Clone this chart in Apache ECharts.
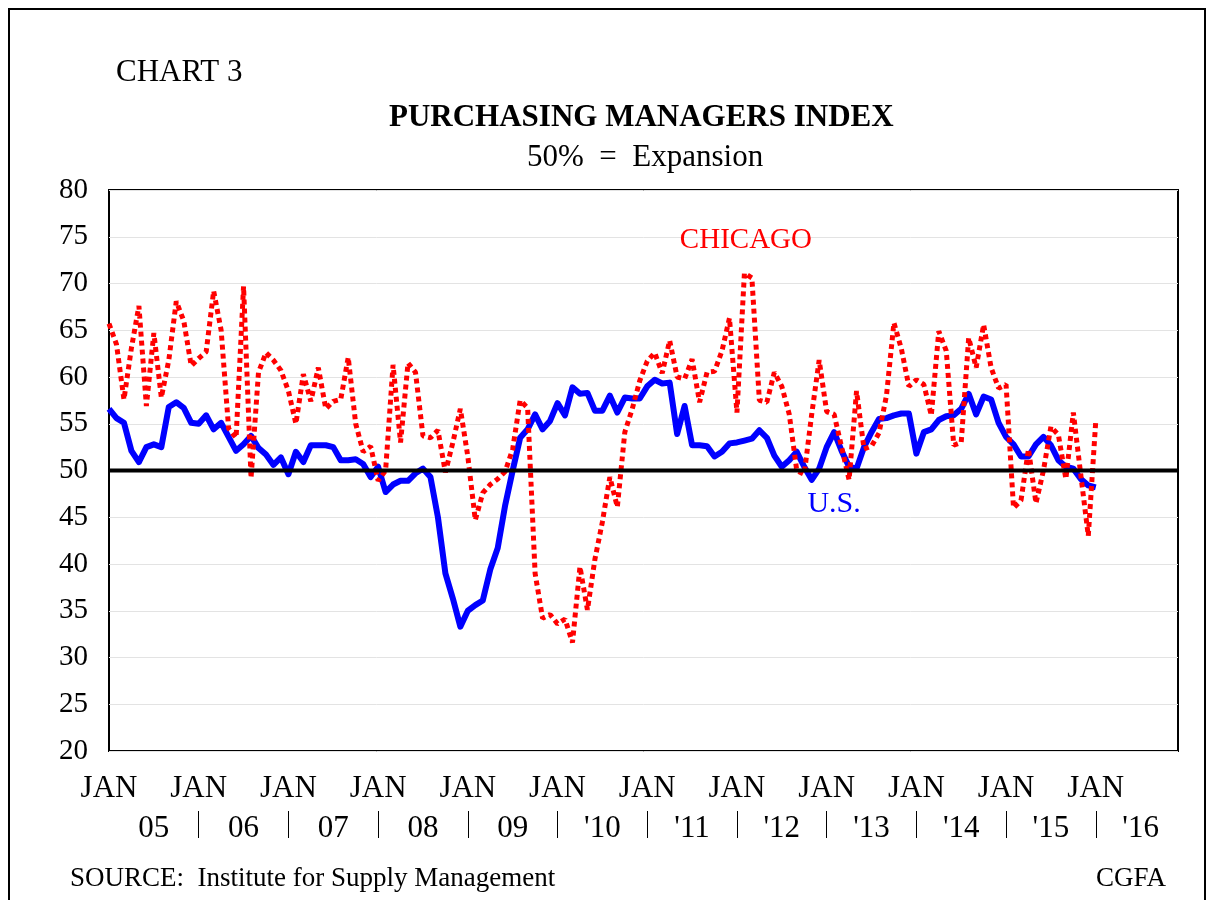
<!DOCTYPE html>
<html>
<head>
<meta charset="utf-8">
<script src="https://cdn.jsdelivr.net/npm/echarts@6/dist/echarts.min.js"></script>
<style>
  html, body { margin: 0; padding: 0; background: #fff; }
  #frame { position: absolute; left: 8px; top: 8px; width: 1194px; height: 1000px; border: 2px solid #000; }
  #chart { position: absolute; left: 0; top: 0; width: 1211px; height: 900px; }
</style>
</head>
<body>
<div id="frame"></div>
<div id="chart"></div>
<script>
// monthly values, Jan 2005 .. Jan 2016 (index 0 = JAN 05)
const usPmi = [
  56.6, 55.6, 55.1, 52.1, 50.9, 52.5, 52.8, 52.5, 56.8, 57.3, 56.7, 55.1,
  55.0, 55.9, 54.4, 55.1, 53.6, 52.1, 52.8, 53.7, 52.4, 51.7, 50.6, 51.4,
  49.6, 52.0, 50.9, 52.7, 52.7, 52.7, 52.5, 51.1, 51.1, 51.2, 50.7, 49.3,
  50.4, 47.7, 48.5, 48.9, 48.9, 49.7, 50.2, 49.3, 45.0, 39.0, 36.3, 33.3,
  35.0, 35.6, 36.1, 39.4, 41.7, 46.3, 50.0, 53.5, 54.4, 56.0, 54.4, 55.3,
  57.2, 55.9, 58.9, 58.2, 58.3, 56.4, 56.4, 58.0, 56.2, 57.8, 57.7, 57.7,
  59.0, 59.7, 59.3, 59.4, 53.9, 56.9, 52.7, 52.7, 52.6, 51.5, 52.0, 52.9,
  53.0, 53.2, 53.4, 54.3, 53.5, 51.6, 50.4, 51.1, 52.0, 50.4, 49.0, 50.2,
  52.5, 54.1, 52.1, 50.4, 50.2, 52.5, 54.1, 55.5, 55.6, 55.9, 56.1, 56.1,
  51.8, 54.1, 54.4, 55.4, 55.8, 55.9, 56.6, 58.2, 56.0, 57.9, 57.6, 55.1,
  53.6, 52.8, 51.5, 51.5, 52.8, 53.6, 52.7, 51.1, 50.4, 50.2, 49.1, 48.4,
  48.2
];
const chicagoPmi = [
  65.7, 63.5, 57.6, 63.1, 67.6, 56.9, 64.7, 57.8, 61.8, 68.1, 66.0, 61.2,
  62.0, 62.7, 69.2, 65.0, 54.5, 53.5, 69.7, 49.2, 60.5, 62.6, 61.8, 60.7,
  58.5, 55.0, 60.3, 57.4, 61.0, 56.6, 57.4, 57.6, 62.1, 55.0, 52.0, 52.6,
  48.9, 50.0, 61.3, 53.0, 61.5, 60.5, 53.7, 53.5, 54.3, 49.8, 53.0, 56.6,
  51.5, 44.7, 47.6, 48.5, 49.1, 49.9, 52.3, 57.5, 56.7, 39.0, 34.2, 34.6,
  33.6, 34.1, 31.6, 39.7, 35.1, 40.5, 44.5, 49.3, 46.1, 54.1, 56.6, 59.6,
  61.7, 62.6, 60.4, 63.9, 60.0, 59.8, 61.9, 57.3, 60.5, 60.6, 62.8, 66.3,
  56.2, 71.1, 70.6, 57.5, 57.3, 60.5, 59.0, 56.0, 50.0, 49.6, 56.0, 61.8,
  56.3, 56.0, 52.5, 49.0, 58.5, 52.3, 52.6, 54.0, 58.0, 65.8, 63.0, 59.0,
  59.7, 59.2, 55.9, 64.9, 62.8, 52.7, 53.0, 64.2, 61.0, 65.6, 61.0, 58.8,
  59.2, 46.0, 46.8, 52.3, 46.5, 50.0, 54.7, 53.8, 49.1, 56.2, 49.5, 43.0,
  55.3
];
const yearLabels = ['05', '06', '07', '08', '09', "'10", "'11", "'12", "'13", "'14", "'15", "'16"];
const monthLabel = 'JAN';
const expansionLevel = 50;
const lastMonth = 143; // axis runs to Dec 2016

const janTicks = yearLabels.map((y, k) => k * 12);
const yearMids = yearLabels.map((y, k) => k * 12 + 6);
const yearSeps = janTicks.slice(1);

const toPairs = arr => arr.map((v, i) => [i, v]);

const serif = 'Liberation Serif, Times New Roman, serif';
const chart = echarts.init(document.getElementById('chart'));

chart.setOption({
  animation: false,
  title: [
    { text: 'CHART 3', left: 111, top: 52, textStyle: { fontFamily: serif, fontSize: 31, fontWeight: 'normal', color: '#000' } },
    { text: 'PURCHASING MANAGERS INDEX', left: 384, top: 97, textStyle: { fontFamily: serif, fontSize: 31, fontWeight: 'bold', color: '#000' } },
    { text: '50%  =  Expansion', left: 522, top: 137, textStyle: { fontFamily: serif, fontSize: 31, fontWeight: 'normal', color: '#000' } },
    { text: 'SOURCE:  Institute for Supply Management', left: 65, top: 860, textStyle: { fontFamily: serif, fontSize: 27, fontWeight: 'normal', color: '#000' } },
    { text: 'CGFA', right: 40, top: 860, textStyle: { fontFamily: serif, fontSize: 27, fontWeight: 'normal', color: '#000' } }
  ],
  grid: { left: 109, right: 33, top: 190, bottom: 149, show: true, borderColor: '#000', borderWidth: 2, backgroundColor: 'transparent' },
  xAxis: [
    {
      type: 'value', min: 0, max: lastMonth,
      axisLine: { show: false }, axisTick: { show: false }, splitLine: { show: false },
      axisLabel: { customValues: janTicks, formatter: () => monthLabel, margin: 22, fontFamily: serif, fontSize: 31, color: '#000' }
    },
    {
      type: 'value', min: 0, max: lastMonth, position: 'bottom', offset: 60,
      axisLine: { show: false }, splitLine: { show: false },
      axisTick: { show: true, customValues: yearSeps, length: 27, lineStyle: { color: '#000', width: 1 } },
      axisLabel: { customValues: yearMids, formatter: v => yearLabels[(v - 6) / 12], margin: 2, fontFamily: serif, fontSize: 31, color: '#000' }
    }
  ],
  yAxis: {
    type: 'value', min: 20, max: 80, interval: 5,
    axisLine: { show: false }, axisTick: { show: false },
    splitLine: { show: true, lineStyle: { color: '#e3e3e3', width: 1 } },
    axisLabel: { margin: 21, fontFamily: serif, fontSize: 29, color: '#000' }
  },
  series: [
    {
      name: 'U.S.', type: 'line', data: toPairs(usPmi), showSymbol: false, z: 2,
      lineStyle: { color: '#0000ff', width: 6, join: 'round' },
      markPoint: {
        symbol: 'rect', symbolSize: 0,
        label: { show: true, position: 'inside', formatter: 'U.S.', fontFamily: serif, fontSize: 30, color: '#0000ff' },
        data: [{ coord: [97, 46.4] }]
      }
    },
    {
      name: 'CHICAGO', type: 'line', data: toPairs(chicagoPmi), showSymbol: false, z: 3,
      lineStyle: { color: '#ff0000', width: 5, type: [5, 4], cap: 'butt' },
      markPoint: {
        symbol: 'rect', symbolSize: 0,
        label: { show: true, position: 'inside', formatter: 'CHICAGO', fontFamily: serif, fontSize: 29, color: '#ff0000' },
        data: [{ coord: [85.2, 74.6] }]
      }
    },
    {
      name: 'expansion', type: 'line', data: [[0, expansionLevel], [lastMonth, expansionLevel]], showSymbol: false, z: 5,
      lineStyle: { color: '#000', width: 4 }, silent: true
    }
  ]
});
</script>
</body>
</html>
